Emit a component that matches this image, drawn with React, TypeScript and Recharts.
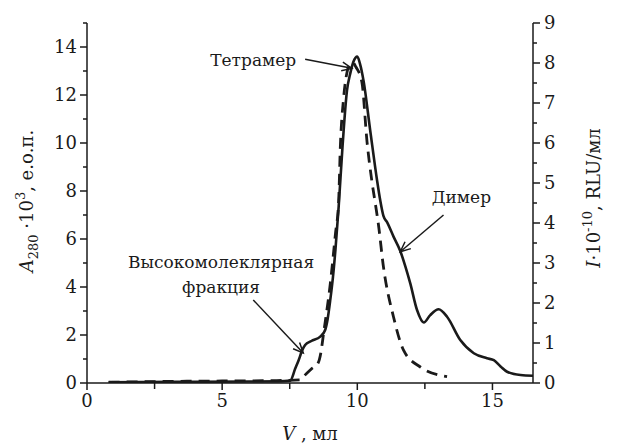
import React from 'react';
import { LineChart, Line, XAxis, YAxis, ReferenceLine, ReferenceDot, Label } from 'recharts';

// Solid curve: A280·10^3 (left axis) vs V, ml
const solidV = [0.8, 2, 4, 6, 7.3, 7.52, 7.7, 7.83, 7.95, 8.07, 8.3, 8.63, 8.81, 8.9, 9.0, 9.1, 9.19, 9.31, 9.45, 9.62, 9.74, 9.86, 10.0, 10.1, 10.23, 10.48, 10.73, 10.85, 10.97, 11.1, 11.34, 11.59, 11.78, 11.96, 12.21, 12.46, 12.7, 13.01, 13.32, 13.81, 14.31, 14.8, 15.05, 15.3, 15.54, 16.04, 16.5];
const solidA = [0.03, 0.04, 0.05, 0.06, 0.08, 0.1, 0.59, 0.95, 1.33, 1.58, 1.75, 1.93, 2.21, 2.65, 3.46, 4.42, 5.54, 7.34, 9.8, 12.2, 12.9, 13.4, 13.6, 13.3, 12.6, 10.5, 8.45, 7.6, 6.95, 6.7, 6.1, 5.5, 4.85, 4.15, 3.04, 2.52, 2.83, 3.07, 2.76, 1.79, 1.24, 1.03, 0.95, 0.69, 0.47, 0.33, 0.3];

// Dashed curve: I·10^-10 RLU/ml (right axis) vs V, ml
const dashedV = [0.8, 3, 5, 7, 7.9, 8.01, 8.3, 8.55, 8.65, 8.75, 9.0, 9.19, 9.31, 9.37, 9.49, 9.62, 9.74, 9.85, 9.95, 10.17, 10.36, 10.54, 10.67, 10.78, 10.97, 11.34, 11.71, 12.33, 13.32];
const dashedI = [0.02, 0.04, 0.05, 0.06, 0.08, 0.16, 0.35, 0.5, 0.75, 1.23, 2.48, 3.72, 4.54, 5.86, 7.1, 7.77, 7.97, 8.0, 7.9, 7.52, 6.03, 5.04, 4.47, 3.97, 2.89, 1.65, 0.82, 0.4, 0.16];

const xTicks = [0, 2.5, 5, 7.5, 10, 12.5, 15];
const xLabels = [0, 5, 10, 15];
const leftTicks = [0, 1, 2, 3, 4, 5, 6, 7, 8, 9, 10, 11, 12, 13, 14, 15];
const leftLabels = [0, 2, 4, 6, 8, 10, 12, 14];
const rightTicks = [0, 0.5, 1, 1.5, 2, 2.5, 3, 3.5, 4, 4.5, 5, 5.5, 6, 6.5, 7, 7.5, 8, 8.5, 9];
const rightLabels = [0, 1, 2, 3, 4, 5, 6, 7, 8, 9];

const solidData = solidV.map((x, i) => ({ x, a: solidA[i] }));
const dashedData = dashedV.map((x, i) => ({ x, i: dashedI[i] }));

// Annotations (data coordinates on the left axis)
const arrows = [
  { from: [8.07, 13.49], to: [9.8, 13.11] },
  { from: [13.19, 7.0], to: [11.59, 5.47] },
  { from: [6.15, 3.46], to: [8.0, 1.25] },
];
const texts = [
  { text: 'Тетрамер', at: [7.74, 13.2], anchor: 'end' },
  { text: 'Димер', at: [13.85, 7.5], anchor: 'middle' },
  { text: 'Высокомолеклярная', at: [4.96, 4.79], anchor: 'middle' },
  { text: 'фракция', at: [4.96, 3.75], anchor: 'middle' },
];

const FONT = "'DejaVu Serif', serif";
const FS = 18;
const AFS = 17;
const INK = '#1a1a1a';
const TS: React.CSSProperties = { fontFamily: FONT, fontSize: FS };
const AS: React.CSSProperties = { fontFamily: FONT, fontSize: AFS };

const LeftTick = (p: any) => {
  const { x, y, payload } = p;
  const v = payload.value;
  const major = leftLabels.includes(v);
  return (
    <g>
      <line x1={x} x2={x - (major ? 7 : 4)} y1={y} y2={y} stroke={INK} strokeWidth={1.5} />
      {major && (
        <text x={x - 10} y={y} dy="0.36em" textAnchor="end" style={TS} fill={INK}>
          {v}
        </text>
      )}
    </g>
  );
};

const RightTick = (p: any) => {
  const { x, y, payload } = p;
  const v = payload.value;
  const major = rightLabels.includes(v);
  return (
    <g>
      <line x1={x} x2={x + (major ? 7 : 4)} y1={y} y2={y} stroke={INK} strokeWidth={1.5} />
      {major && (
        <text x={x + 11} y={y} dy="0.36em" textAnchor="start" style={TS} fill={INK}>
          {v}
        </text>
      )}
    </g>
  );
};

const BottomTick = (p: any) => {
  const { x, y, payload } = p;
  const v = payload.value;
  const major = xLabels.includes(v);
  return (
    <g>
      <line x1={x} x2={x} y1={y} y2={y + (major ? 7 : 6)} stroke={INK} strokeWidth={1.5} />
      {major && (
        <text x={x} y={y + 10} dy="0.75em" textAnchor="middle" style={TS} fill={INK}>
          {v}
        </text>
      )}
    </g>
  );
};

const ArrowShape = (p: any) => {
  const { x1, y1, x2, y2 } = p;
  const ang = Math.atan2(y2 - y1, x2 - x1);
  const L = 11;
  const s = 0.42;
  const ax = x2 - L * Math.cos(ang - s);
  const ay = y2 - L * Math.sin(ang - s);
  const bx = x2 - L * Math.cos(ang + s);
  const by = y2 - L * Math.sin(ang + s);
  return (
    <g>
      <line x1={x1} y1={y1} x2={x2} y2={y2} stroke={INK} strokeWidth={1.5} />
      <polyline points={`${ax},${ay} ${x2},${y2} ${bx},${by}`} fill="none" stroke={INK} strokeWidth={1.5} />
    </g>
  );
};

const LeftTitle = (p: any) => {
  const cx = 33;
  const cy = 201;
  return (
    <text x={cx} y={cy} transform={`rotate(-90, ${cx}, ${cy})`} textAnchor="middle" style={TS} fill={INK}>
      <tspan fontStyle="italic">A</tspan>
      <tspan style={{ fontSize: 13 }} dy={5}>280</tspan>
      <tspan dy={-5}> ·10</tspan>
      <tspan style={{ fontSize: 13 }} dy={-8}>3</tspan>
      <tspan dy={8}>, е.о.п.</tspan>
    </text>
  );
};

const RightTitle = (p: any) => {
  const cx = 600;
  const cy = 198;
  return (
    <text x={cx} y={cy} transform={`rotate(-90, ${cx}, ${cy})`} textAnchor="middle" style={TS} fill={INK}>
      <tspan fontStyle="italic">I</tspan>
      <tspan>·10</tspan>
      <tspan style={{ fontSize: 13 }} dy={-8}>-10</tspan>
      <tspan dy={8}>, RLU/мл</tspan>
    </text>
  );
};

const BottomTitle = (p: any) => {
  const cx = 310;
  const cy = 440;
  return (
    <text x={cx} y={cy} textAnchor="middle" style={TS} fill={INK}>
      <tspan fontStyle="italic">V</tspan>
      <tspan> , мл</tspan>
    </text>
  );
};

export default function App() {
  return (
    <div style={{ width: 621, height: 445, background: '#fff' }}>
      <style>{'body{margin:0;background:#fff}'}</style>
      <LineChart
        width={621}
        height={445}
        margin={{ top: 23, right: 28, bottom: 22, left: 27 }}
      >
        <XAxis
          type="number"
          dataKey="x"
          domain={[0, 16.5]}
          ticks={xTicks}
          interval={0}
          allowDataOverflow
          height={40}
          tickSize={0}
          tickMargin={0}
          tickLine={false}
          axisLine={{ stroke: INK, strokeWidth: 1.5 }}
          tick={BottomTick}
        >
          <Label content={BottomTitle} />
        </XAxis>
        <YAxis
          yAxisId="left"
          orientation="left"
          type="number"
          domain={[0, 15]}
          ticks={leftTicks}
          interval={0}
          allowDataOverflow
          width={60}
          tickSize={0}
          tickMargin={0}
          tickLine={false}
          axisLine={{ stroke: INK, strokeWidth: 1.5 }}
          tick={LeftTick}
        >
          <Label content={LeftTitle} />
        </YAxis>
        <YAxis
          yAxisId="right"
          orientation="right"
          type="number"
          domain={[0, 9]}
          ticks={rightTicks}
          interval={0}
          allowDataOverflow
          width={60}
          tickSize={0}
          tickMargin={0}
          tickLine={false}
          axisLine={{ stroke: INK, strokeWidth: 1.5 }}
          tick={RightTick}
        >
          <Label content={RightTitle} />
        </YAxis>
        <Line
          yAxisId="right"
          data={dashedData}
          dataKey="i"
          type="monotone"
          stroke={INK}
          strokeWidth={2.8}
          strokeDasharray="11 7"
          dot={false}
          activeDot={false}
          isAnimationActive={false}
        />
        <Line
          yAxisId="left"
          data={solidData}
          dataKey="a"
          type="monotone"
          stroke={INK}
          strokeWidth={2.6}
          dot={false}
          activeDot={false}
          isAnimationActive={false}
        />
        {arrows.map((a, k) => (
          <ReferenceLine
            key={'ar' + k}
            yAxisId="left"
            ifOverflow="visible"
            segment={[{ x: a.from[0], y: a.from[1] }, { x: a.to[0], y: a.to[1] }]}
            shape={ArrowShape}
          />
        ))}
        {texts.map((t, k) => (
          <ReferenceDot
            key={'tx' + k}
            yAxisId="left"
            x={t.at[0]}
            y={t.at[1]}
            r={0}
            ifOverflow="visible"
            shape={(p: any) => (
              <text x={p.cx} y={p.cy} textAnchor={t.anchor as any} style={AS} fill={INK}>
                {t.text}
              </text>
            )}
          />
        ))}
      </LineChart>
    </div>
  );
}
